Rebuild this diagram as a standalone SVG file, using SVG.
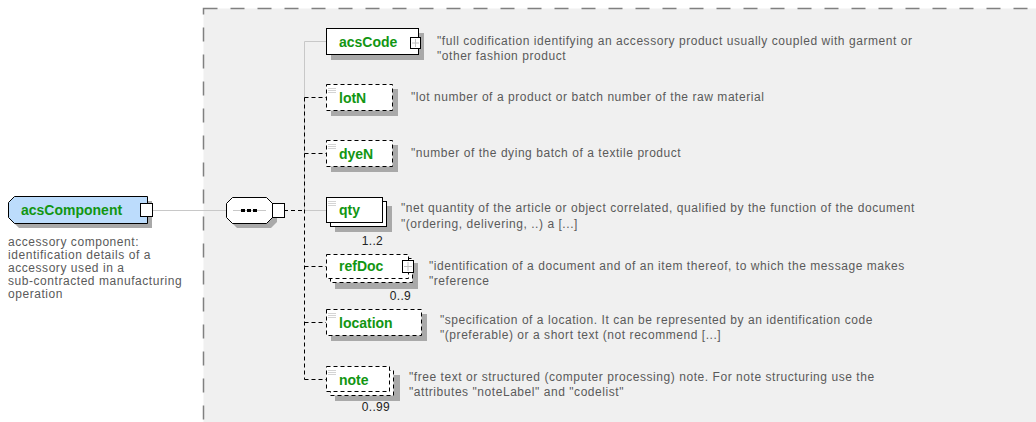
<svg xmlns="http://www.w3.org/2000/svg" width="1036" height="422" viewBox="0 0 1036 422">
<style>
.bg{fill:#ffffff}
.frame{fill:#f0f0f0;stroke:#808080;stroke-width:1.5;stroke-dasharray:14 13}
.shadow{fill:#a9a9a9}
.box{fill:#ffffff;stroke:#000000;stroke-width:1}
.opt{fill:#ffffff;stroke:#000000;stroke-width:1;stroke-dasharray:4 3}
.root{fill:#bcdcfc;stroke:#000000;stroke-width:1}
.sq{fill:#ffffff;stroke:#000000;stroke-width:1}
.plus{stroke:#c0c0c0;stroke-width:1;fill:none}
.icon{stroke:#d4d4d4;stroke-width:1;fill:none}
.name{font-family:"Liberation Sans",Arial,sans-serif;font-weight:bold;font-size:14px;fill:#129612}
.desc{font-family:"Liberation Sans",Arial,sans-serif;font-size:12px;fill:#5a5a5a;letter-spacing:0.55px}
.card{font-family:"Liberation Sans",Arial,sans-serif;font-size:12px;fill:#222222;text-anchor:end;letter-spacing:0.3px}
.cg{stroke:#c8c8c8;stroke-width:1;fill:none}
.cd{stroke:#000000;stroke-width:1;stroke-dasharray:4 3;fill:none}
</style>
<rect class="bg" x="0" y="0" width="1036" height="422"/>
<rect class="frame" x="203.5" y="8.5" width="900" height="480"/>

<g id="connectors">
  <line class="cg" x1="146" y1="210.5" x2="226" y2="210.5"/>
  <line class="cg" x1="232" y1="210.5" x2="266" y2="210.5"/>
  <path class="cg" d="M304.5 210.5 V41.5 H326 M304.5 210.5 H326"/>
  <line class="cd" x1="284" y1="210.5" x2="304.5" y2="210.5"/>
  <path class="cd" d="M304.5 97.5 V379.5"/>
  <path class="cd" d="M304.5 97.5 H326 M304.5 153.5 H326 M304.5 266.5 H326 M304.5 322.5 H326 M304.5 379.5 H326"/>
</g>

<g id="acsComponent">
  <polygon class="shadow" points="19,201 152,201 152,228 19,228 13,222 13,207"/>
  <polygon class="root" points="14.5,196.5 147.5,196.5 147.5,223.5 14.5,223.5 8.5,217.5 8.5,202.5"/>
  <rect class="sq" x="140.5" y="203.5" width="12" height="13"/>
  <text class="name" x="21" y="215">acsComponent</text>
  <text class="desc" x="8" y="246">accessory component:</text>
  <text class="desc" x="8" y="259">identification details of a</text>
  <text class="desc" x="8" y="272">accessory used in a</text>
  <text class="desc" x="8" y="285">sub-contracted manufacturing</text>
  <text class="desc" x="8" y="298">operation</text>
</g>

<g id="sequence">
  <polygon class="shadow" points="237,202 271,202 277,208 277,222 271,228 237,228 231,222 231,208"/>
  <polygon class="box" points="232.5,197.5 266.5,197.5 272.5,203.5 272.5,217.5 266.5,223.5 232.5,223.5 226.5,217.5 226.5,203.5"/>
  <line class="cg" x1="233" y1="210.5" x2="266" y2="210.5"/>
  <rect x="241" y="209" width="4" height="3" fill="#000"/>
  <rect x="247" y="209" width="4" height="3" fill="#000"/>
  <rect x="253" y="209" width="4" height="3" fill="#000"/>
  <rect class="sq" x="272.5" y="203.5" width="12" height="14"/>
</g>

<g id="acsCode">
  <rect class="shadow" x="331" y="33" width="93" height="27"/>
  <rect class="box" x="326.5" y="28.5" width="92" height="26"/>
  <rect class="sq" x="410.5" y="37.5" width="10" height="11"/>
  <path class="plus" d="M412 43 H419 M415.5 39 V47"/>
  <text class="name" x="339" y="47">acsCode</text>
  <text class="desc" x="437" y="45">"full codification identifying an accessory product usually coupled with garment or</text>
  <text class="desc" x="437" y="60">"other fashion product</text>
</g>

<g id="lotN">
  <rect class="shadow" x="331" y="89" width="67" height="27"/>
  <rect class="opt" x="326.5" y="84.5" width="66" height="26"/>
  <path class="icon" d="M328 88.5 H336 M328 90.5 H336 M328 92.5 H336"/>
  <text class="name" x="339" y="102.5">lotN</text>
  <text class="desc" x="411" y="101">"lot number of a product or batch number of the raw material</text>
</g>

<g id="dyeN">
  <rect class="shadow" x="331" y="145" width="67" height="27"/>
  <rect class="opt" x="326.5" y="140.5" width="66" height="26"/>
  <path class="icon" d="M328 144.5 H336 M328 146.5 H336 M328 148.5 H336"/>
  <text class="name" x="339" y="158.5">dyeN</text>
  <text class="desc" x="411" y="157">"number of the dying batch of a textile product</text>
</g>

<g id="qty">
  <rect class="shadow" x="335" y="206" width="57" height="26"/>
  <rect class="box" x="330.5" y="201.5" width="56" height="25"/>
  <rect class="box" x="326.5" y="197.5" width="56" height="25"/>
  <path class="icon" d="M328 201.5 H336 M328 203.5 H336 M328 205.5 H336"/>
  <text class="name" x="339" y="215">qty</text>
  <text class="card" x="383" y="245">1..2</text>
  <text class="desc" x="401" y="212">"net quantity of the article or object correlated, qualified by the function of the document</text>
  <text class="desc" x="401" y="228">"(ordering, delivering, ..) a [...]</text>
</g>

<g id="refDoc">
  <rect class="shadow" x="335" y="263" width="83" height="26"/>
  <rect class="opt" x="330.5" y="258.5" width="82" height="24"/>
  <rect class="opt" x="326.5" y="254.5" width="82" height="24"/>
  <rect class="sq" x="402.5" y="260.5" width="11" height="12"/>
  <path class="plus" d="M404 266.5 H412 M408 262 V271"/>
  <text class="name" x="339" y="271">refDoc</text>
  <text class="card" x="411" y="300">0..9</text>
  <text class="desc" x="429" y="270">"identification of a document and of an item thereof, to which the message makes</text>
  <text class="desc" x="429" y="285">"reference</text>
</g>

<g id="location">
  <rect class="shadow" x="331" y="314" width="96" height="27"/>
  <rect class="opt" x="326.5" y="309.5" width="95" height="26"/>
  <path class="icon" d="M328 313.5 H336 M328 315.5 H336 M328 317.5 H336"/>
  <text class="name" x="339" y="328">location</text>
  <text class="desc" x="440" y="324">"specification of a location. It can be represented by an identification code</text>
  <text class="desc" x="440" y="339">"(preferable) or a short text (not recommend [...]</text>
</g>

<g id="note">
  <rect class="shadow" x="335" y="375" width="65" height="26"/>
  <rect class="opt" x="330.5" y="370.5" width="63" height="25"/>
  <rect class="opt" x="326.5" y="366.5" width="63" height="25"/>
  <path class="icon" d="M328 370.5 H336 M328 372.5 H336 M328 374.5 H336"/>
  <text class="name" x="339" y="384.5">note</text>
  <text class="card" x="390" y="411">0..99</text>
  <text class="desc" x="409" y="381">"free text or structured (computer processing) note. For note structuring use the</text>
  <text class="desc" x="409" y="396">"attributes "noteLabel" and "codelist"</text>
</g>
</svg>
